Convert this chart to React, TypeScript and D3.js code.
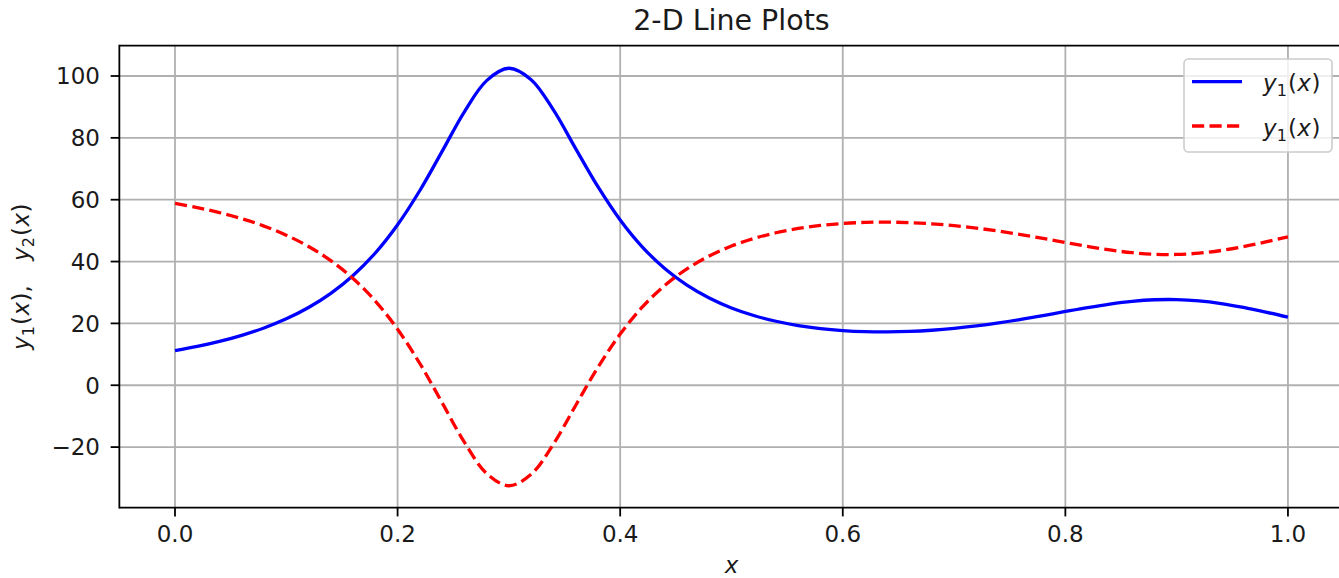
import React from 'react';
import * as d3 from 'd3';

const xValues = [0, 0.02, 0.04, 0.06, 0.08, 0.1, 0.12, 0.14, 0.16, 0.18, 0.2, 0.22, 0.24, 0.26, 0.28, 0.3, 0.32, 0.34, 0.36, 0.38, 0.4, 0.42, 0.44, 0.46, 0.48, 0.5, 0.52, 0.54, 0.56, 0.58, 0.6, 0.62, 0.64, 0.66, 0.68, 0.7, 0.72, 0.74, 0.76, 0.78, 0.8, 0.82, 0.84, 0.86, 0.88, 0.9, 0.92, 0.94, 0.96, 0.98, 1.0];
const y1Values = [11.18, 12.54, 14.17, 16.13, 18.53, 21.47, 25.13, 29.71, 35.49, 42.77, 51.89, 62.97, 75.63, 88.43, 98.51, 102.5, 98.81, 89.04, 76.54, 64.2, 53.45, 44.68, 37.76, 32.37, 28.21, 25.0, 22.55, 20.69, 19.31, 18.33, 17.69, 17.34, 17.26, 17.41, 17.79, 18.38, 19.18, 20.16, 21.29, 22.54, 23.85, 25.12, 26.25, 27.13, 27.64, 27.7, 27.29, 26.42, 25.18, 23.67, 22.0];
const y2Values = [58.82, 57.46, 55.83, 53.87, 51.47, 48.53, 44.87, 40.29, 34.51, 27.23, 18.11, 7.03, -5.63, -18.43, -28.51, -32.5, -28.81, -19.04, -6.54, 5.8, 16.55, 25.32, 32.24, 37.63, 41.79, 45.0, 47.45, 49.31, 50.69, 51.67, 52.31, 52.66, 52.74, 52.59, 52.21, 51.62, 50.82, 49.84, 48.71, 47.46, 46.15, 44.88, 43.75, 42.87, 42.36, 42.3, 42.71, 43.58, 44.82, 46.33, 48.0];
const xTicks = [0, 0.2, 0.4, 0.6, 0.8, 1.0];
const yTicks = [-20, 0, 20, 40, 60, 80, 100];
const titleText = '2-D Line Plots';
const legendLabels = ['1', '1'];

const FONT = '"DejaVu Sans", sans-serif';
const TEXT = '#1a1a1a';

type Part = { t: string; it?: boolean; sub?: boolean; dx?: number };

function mathParts(sub: string): Part[] {
  return [{ t: 'y', it: true }, { t: sub, sub: true }, { t: '(' , dx: 1 }, { t: 'x', it: true, dx: 0.5 }, { t: ')', dx: 0.5 }];
}

function renderParts(parts: Part[], fs: number, keyPrefix: string) {
  const out: any[] = [];
  let shifted = false;
  parts.forEach((p, i) => {
    let dy = 0;
    if (p.sub && !shifted) { dy = fs * 0.22; shifted = true; }
    else if (!p.sub && shifted) { dy = -fs * 0.22; shifted = false; }
    out.push(
      <tspan key={keyPrefix + i} dx={p.dx || undefined} dy={dy || undefined} fontStyle={p.it ? 'italic' : 'normal'} fontSize={p.sub ? fs * 0.7 : fs}>
        {p.t}
      </tspan>
    );
  });
  return out;
}

export default function App() {
  const W = 1339, H = 578;
  const left = 119.35, right = 1343.6, top = 45.7, bottom = 507.7;
  const x = d3.scaleLinear().domain([-0.05, 1.05]).range([left, right]);
  const y = d3.scaleLinear().domain([-39.6, 109.8]).range([bottom, top]);
  const tickFs = 23;
  const lw = 1.8;

  const line = (vals: number[]) =>
    d3.line<number>()
      .x((_, i) => x(xValues[i]))
      .y((d) => y(d))
      .curve(d3.curveCatmullRom.alpha(0.5))(vals) || '';

  const fmtX = d3.format('.1f');
  const fmtY = (v: number) => (v < 0 ? '\u2212' + Math.abs(v) : String(v));

  const legX = 1184, legY = 59, legW = 148, legH = 93;
  const rowYs = [81.7, 126];

  const yLabelParts: Part[] = [
    ...mathParts('1'),
    { t: ',' },
    ...mathParts('2').map((p, i) => (i === 0 ? { ...p, dx: tickFs * 1.05 } : p)),
  ];

  return (
    <svg width={W} height={H} style={{ position: 'absolute', left: 0, top: 0, background: '#fff' }} fontFamily={FONT}>
      <rect x={0} y={0} width={W} height={H} fill="#fff" />
      <defs>
        <clipPath id="plotclip">
          <rect x={left} y={top} width={right - left} height={bottom - top} />
        </clipPath>
      </defs>
      {/* grid */}
      <g stroke="#b0b0b0" strokeWidth={lw}>
        {xTicks.map((t) => (
          <line key={'gx' + t} x1={x(t)} x2={x(t)} y1={top} y2={bottom} />
        ))}
        {yTicks.map((t) => (
          <line key={'gy' + t} x1={left} x2={right} y1={y(t)} y2={y(t)} />
        ))}
      </g>
      {/* lines */}
      <g clipPath="url(#plotclip)" fill="none">
        <path d={line(y1Values)} stroke="#0000ff" strokeWidth={3.3} strokeLinejoin="round" />
        <path d={line(y2Values)} stroke="#ff0000" strokeWidth={3.3} strokeDasharray="12.2,5.3" />
      </g>
      {/* spines */}
      <g stroke="#000" strokeWidth={lw} fill="none">
        <line x1={left} x2={left} y1={top - lw / 2} y2={bottom + lw / 2} />
        <line x1={left} x2={right} y1={bottom} y2={bottom} />
        <line x1={left} x2={right} y1={top} y2={top} />
        <line x1={right} x2={right} y1={top} y2={bottom} />
      </g>
      {/* x ticks */}
      {xTicks.map((t) => (
        <g key={'xt' + t}>
          <line x1={x(t)} x2={x(t)} y1={bottom} y2={bottom + 8.7} stroke="#000" strokeWidth={lw} />
          <text x={x(t)} y={541.5} textAnchor="middle" fontSize={tickFs} fill={TEXT}>{fmtX(t)}</text>
        </g>
      ))}
      {/* y ticks */}
      {yTicks.map((t) => (
        <g key={'yt' + t}>
          <line x1={left - 8.7} x2={left} y1={y(t)} y2={y(t)} stroke="#000" strokeWidth={lw} />
          <text x={100} y={y(t) + 8.3} textAnchor="end" fontSize={tickFs} fill={TEXT}>{fmtY(t)}</text>
        </g>
      ))}
      {/* title */}
      <text x={(left + right) / 2} y={29.5} textAnchor="middle" fontSize={28.5} fill={TEXT}>{titleText}</text>
      {/* x label */}
      <text x={(left + right) / 2} y={573} textAnchor="middle" fontSize={tickFs} fontStyle="italic" fill={TEXT}>x</text>
      {/* y label */}
      <text transform={`translate(29,${(top + bottom) / 2}) rotate(-90)`} textAnchor="middle" fontSize={tickFs} fill={TEXT}>
        {renderParts(yLabelParts, tickFs, 'yl')}
      </text>
      {/* legend */}
      <rect x={legX} y={legY} width={legW} height={legH} rx={4.4} ry={4.4} fill="#fff" fillOpacity={0.8} stroke="#cccccc" strokeWidth={1.6} />
      {legendLabels.map((lab, i) => (
        <g key={'leg' + i}>
          <line x1={1192} x2={1242} y1={rowYs[i]} y2={rowYs[i]} stroke={i === 0 ? '#0000ff' : '#ff0000'} strokeWidth={3.3}
            strokeDasharray={i === 0 ? undefined : '12.2,5.3'} />
          <text x={1263} y={rowYs[i] + 9.5} fontSize={tickFs} fill={TEXT}>
            {renderParts(mathParts(lab), tickFs, 'lg' + i)}
          </text>
        </g>
      ))}
    </svg>
  );
}
